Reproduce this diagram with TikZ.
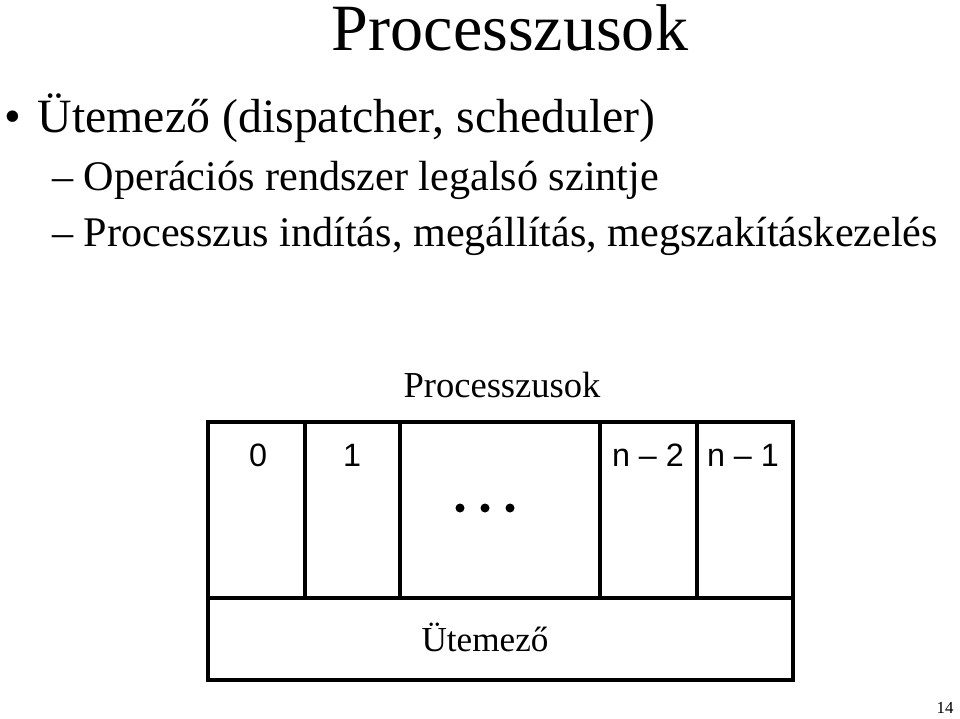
\documentclass[tikz,border=0pt]{standalone}
\usepackage{fontspec}
\setmainfont{Liberation Serif}
\setsansfont{Liberation Sans}
\usetikzlibrary{positioning}
\tikzset{
  celllabel/.style={font=\sffamily\fontsize{23}{23}\selectfont},
  bodytext/.style={anchor=west,inner sep=0pt}
}
\begin{document}
\begin{tikzpicture}[x=0.025cm,y=-0.025cm]
  \useasboundingbox (0,0) rectangle (960,718);
  \node (title) at (510,28) {\fontsize{47}{47}\selectfont Processzusok};
  \node [bodytext] (b1) at (4,118) {\fontsize{34}{34}\selectfont\textbullet\hspace{0.35em}Ütemező (dispatcher, scheduler)};
  \node [bodytext] (s1) at (52,180) {\fontsize{30}{30}\selectfont –\hspace{0.25em}Operációs rendszer legalsó szintje};
  \node [bodytext] (s2) at (52,236) {\fontsize{30}{30}\selectfont –\hspace{0.25em}Processzus indítás, megállítás, megszakításkezelés};
  \node (caption) at (502,385) {\fontsize{26}{26}\selectfont Processzusok};
  % process cells
  \draw [line width=2.5pt] (208,422) rectangle (793,680);
  \draw [line width=2.5pt] (208,598) -- (793,598);
  \foreach \x in {305,400,600,697}{
    \draw [line width=2.5pt] (\x,422) -- (\x,598);
  }
  \node [celllabel] (p0) at (258,455) {0};
  \node [celllabel] (p1) at (352,455) {1};
  \node [celllabel] (pn2) at (648,455) {n -- 2};
  \node [celllabel] (pn1) at (743,455) {n -- 1};
  \foreach \x in {460,485,510}{
    \fill (\x,508) circle (4.5);
  }
  \node (sched) at (485,637) {\fontsize{25}{25}\selectfont Ütemező};
  \node (page) at (945,708) {\fontsize{12}{12}\selectfont 14};
\end{tikzpicture}
\end{document}
